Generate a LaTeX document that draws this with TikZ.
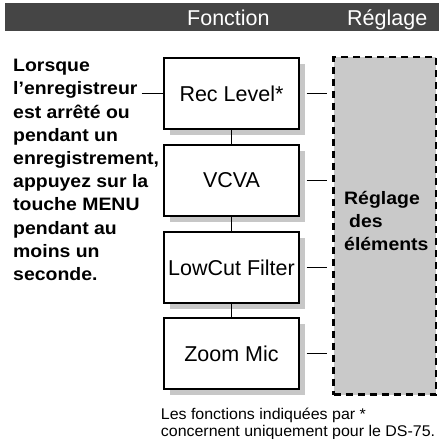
\documentclass[tikz,border=0pt]{standalone}
\usepackage{fontspec}
\setmainfont{Liberation Sans}
\newfontfamily\boldwide[FakeStretch=1.08]{Liberation Sans Bold}
\newfontfamily\footf[FakeStretch=1.03]{Liberation Sans}
\definecolor{barcol}{gray}{0.27}
\definecolor{regcol}{gray}{0.79}
\definecolor{shadowc}{gray}{0.78}
\begin{document}
\begin{tikzpicture}[x=1pt,y=-1pt,
  fbox/.style={draw=black, fill=white, line width=1.1pt,
    minimum width=135pt, minimum height=71pt, inner sep=0pt,
    font=\fontsize{21.5}{25}\selectfont},
  shbox/.style={fill=shadowc, draw=none, minimum width=135pt, minimum height=71pt, inner sep=0pt},
  conn/.style={draw=black, line width=1.1pt},
  headtxt/.style={anchor=base west, inner sep=0pt, text=white, font=\fontsize{21.5}{25}\selectfont},
  lefttxt/.style={anchor=base west, inner sep=0pt, font=\boldwide\fontsize{18}{23}\selectfont},
  foottxt/.style={anchor=base west, inner sep=0pt, font=\footf\fontsize{15.5}{17}\selectfont},
  regbox/.style={draw=black, fill=regcol, line width=2.5pt, dash pattern=on 7pt off 5pt,
    minimum width=102.5pt, minimum height=337.5pt, inner sep=0pt}
]
\useasboundingbox (0,0) rectangle (440,439);
% header bar
\node[fill=barcol, draw=none, inner sep=0pt, minimum width=434pt, minimum height=27.2pt] (bar) at (222,16.9) {};
\node[headtxt] (hfon) at (187,25.7) {Fonction};
\node[headtxt] (hreg) at (347,25.7) {Réglage};
% left text
\foreach \t [count=\i from 0] in {Lorsque,l’enregistreur,est arrêté ou,pendant un,enregistrement{,},appuyez sur la,touche MENU,pendant au,moins un,seconde.}
  \node[lefttxt] (L\i) at (13,71.7+23.2*\i) {\t};
% setting area
\node[regbox] (reg) at (384.75,225.75) {};
\node[lefttxt] (r1) at (344,204) {Réglage};
\node[lefttxt] (r2) at (349,227) {des};
\node[lefttxt] (r3) at (344,250) {éléments};
% function box shadows
\foreach \y [count=\i] in {93.5,180.5,267.5,353.5}
  \node[shbox] (s\i) at (237.5,\y+5.5) {};
% function boxes
\node[fbox] (b1) at (231.5,93.5) {Rec Level*};
\node[fbox] (b2) at (231.5,180.5) {VCVA};
\node[fbox] (b3) at (231.5,267.5) {LowCut Filter};
\node[fbox] (b4) at (231.5,353.5) {Zoom Mic};
% vertical connectors
\draw[conn] (b1.south) -- (b2.north);
\draw[conn] (b2.south) -- (b3.north);
\draw[conn] (b3.south) -- (b4.north);
% left connector
\coordinate (lstart) at (141.7,93.3);
\draw[conn] (lstart) -- (lstart -| b1.west);
% right connectors
\foreach \b in {b1,b2,b3,b4}
  \draw[conn] ([xshift=7pt]\b.east) -- ([xshift=-5.5pt]reg.west |- \b.east);
% footer
\node[foottxt] (f1) at (160.7,419.3) {Les fonctions indiquées par *};
\node[foottxt] (f2) at (160.7,436.3) {concernent uniquement pour le DS-75.};
\end{tikzpicture}
\end{document}
